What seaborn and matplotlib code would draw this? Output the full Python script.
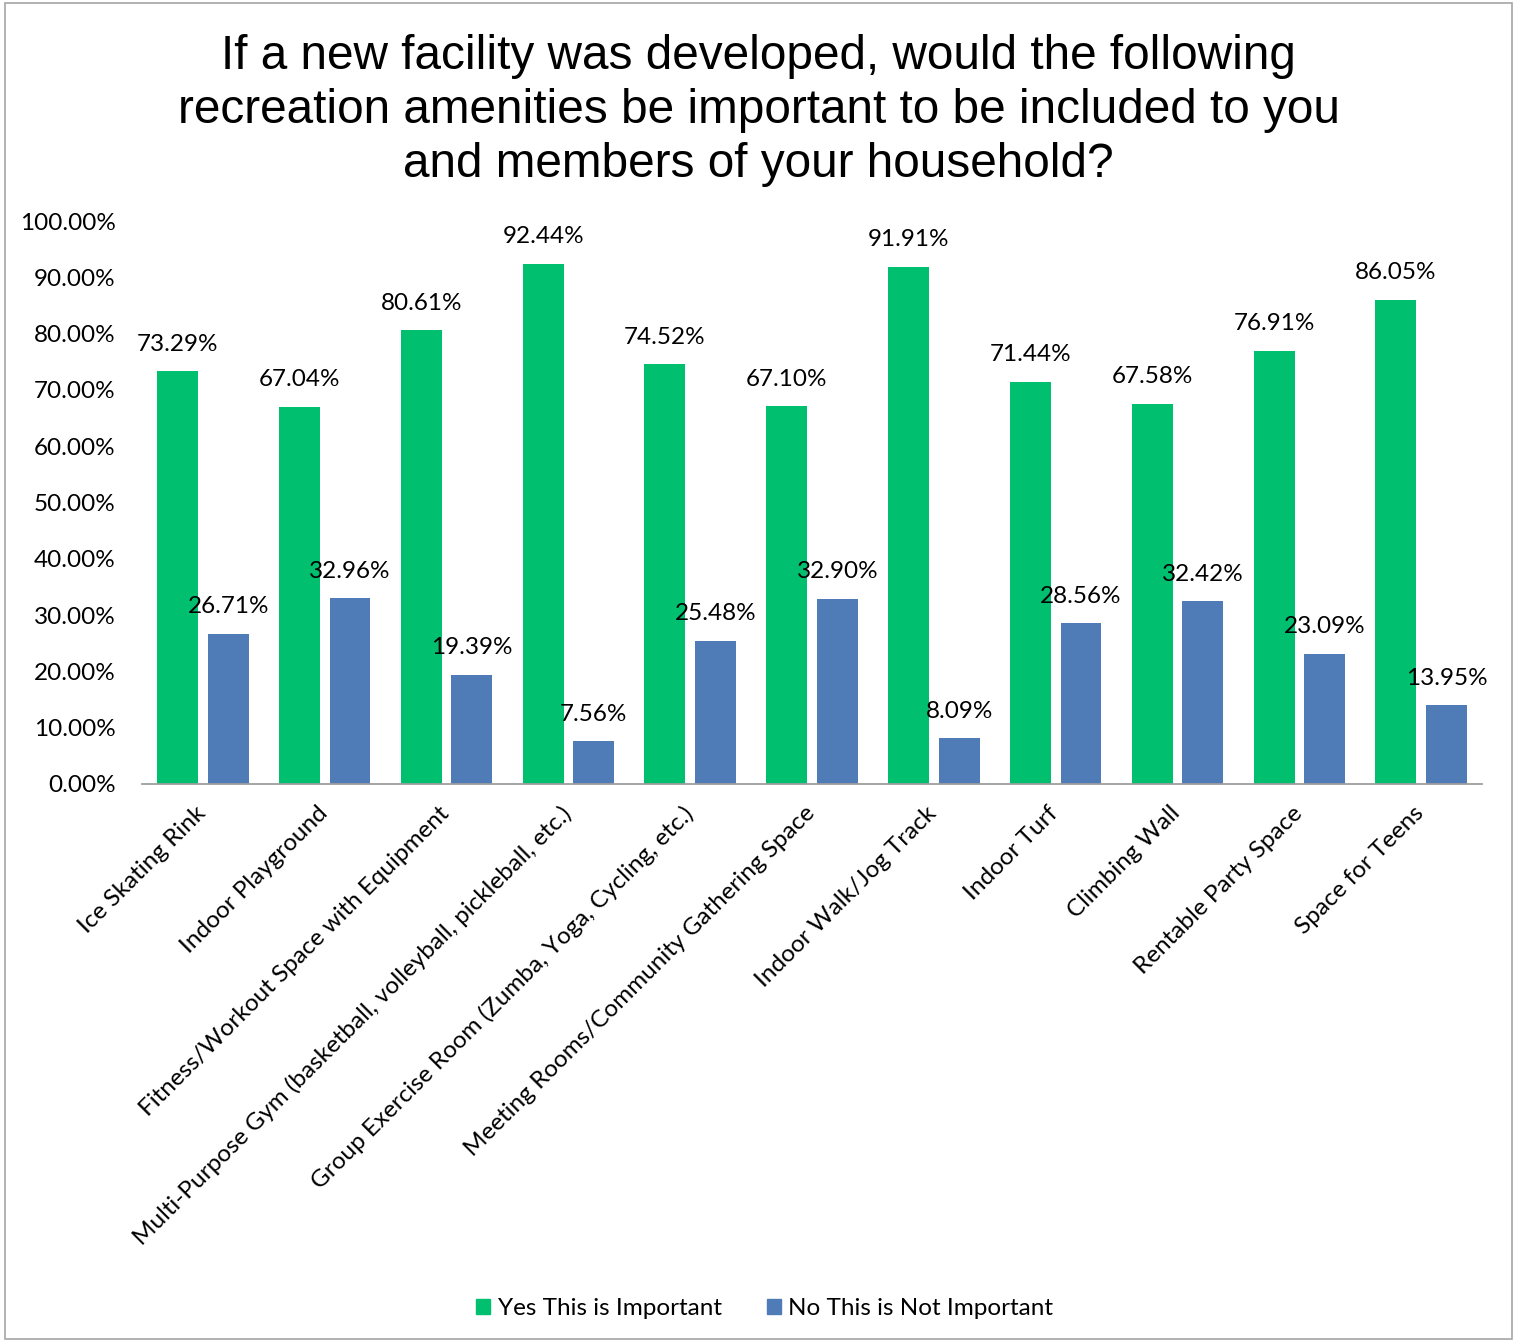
import matplotlib
matplotlib.use("Agg")
import matplotlib.pyplot as plt
import matplotlib.patches as mpatches
import matplotlib.transforms as mtransforms
import seaborn as sns
import pandas as pd

amenities = [
    "Ice Skating Rink",
    "Indoor Playground",
    "Fitness/Workout Space with Equipment",
    "Multi-Purpose Gym (basketball, volleyball, pickleball, etc.)",
    "Group Exercise Room (Zumba, Yoga, Cycling, etc.)",
    "Meeting Rooms/Community Gathering Space",
    "Indoor Walk/Jog Track",
    "Indoor Turf",
    "Climbing Wall",
    "Rentable Party Space",
    "Space for Teens",
]
yes_important = [73.29, 67.04, 80.61, 92.44, 74.52, 67.10, 91.91, 71.44, 67.58, 76.91, 86.05]
not_important = [26.71, 32.96, 19.39, 7.56, 25.48, 32.90, 8.09, 28.56, 32.42, 23.09, 13.95]
series_names = ["Yes This is Important", "No This is Not Important"]
colors = ["#00BF6F", "#4F7BB7"]
yticks = [0, 10, 20, 30, 40, 50, 60, 70, 80, 90, 100]

df = pd.DataFrame({
    "Amenity": amenities * 2,
    "Response": [series_names[0]] * len(amenities) + [series_names[1]] * len(amenities),
    "Percent": yes_important + not_important,
})

sns.set_theme(style="white")
plt.rcParams["font.family"] = ["Lato", "DejaVu Sans"]
plt.rcParams["text.color"] = "black"
plt.rcParams["xtick.color"] = "black"
plt.rcParams["ytick.color"] = "black"

fs = 17.5

fig = plt.figure(figsize=(15.17, 13.42), dpi=100)
ax = fig.add_axes([0.0936, 0.4158, 0.8834, 0.4195])

sns.barplot(data=df, x="Amenity", y="Percent", hue="Response",
            palette=colors, width=0.83, gap=0.19, ax=ax, legend=False,
            edgecolor="none", saturation=1)

ax.set_ylim(0, 100)
ax.set_xlim(-0.5, len(amenities) - 0.5)
ax.set_yticks(yticks)
ax.set_yticklabels([f"{v:.2f}%" for v in yticks], fontsize=fs)
ax.tick_params(axis="y", length=0, pad=19)
ax.tick_params(axis="x", length=0, pad=4)
ax.set_xlabel("")
ax.set_ylabel("")
for s in ["top", "right", "left"]:
    ax.spines[s].set_visible(False)
ax.spines["bottom"].set_color("#9e9e9e")
ax.spines["bottom"].set_linewidth(1.3)

ax.set_xticks(range(len(amenities)))
ax.set_xticklabels(amenities, rotation=45, ha="right", rotation_mode="anchor",
                   fontsize=fs, va="top")
shift = mtransforms.ScaledTranslation(-8 / 100, -13 / 100, fig.dpi_scale_trans)
for lbl in ax.get_xticklabels():
    lbl.set_transform(lbl.get_transform() + shift)

for cont in ax.containers:
    ax.bar_label(cont, labels=[f"{v:.2f}%" for v in cont.datavalues],
                 fontsize=fs, padding=12)

fig.suptitle("If a new facility was developed, would the following\n"
             "recreation amenities be important to be included to you\n"
             "and members of your household?",
             y=0.975, fontsize=34.4, family=["Liberation Sans", "DejaVu Sans"],
             linespacing=1.27, color="black")

handles = [mpatches.Patch(color=c, label=n) for c, n in zip(colors, series_names)]
fig.legend(handles=handles, loc="center", bbox_to_anchor=(0.504, 0.025), ncol=2,
           frameon=False, fontsize=fs, handlelength=0.6, handleheight=0.6,
           handletextpad=0.3, columnspacing=1.85)

fig.patches.append(mpatches.Rectangle((0.003, 0.002), 0.994, 0.996, transform=fig.transFigure,
                                      fill=False, edgecolor="#a6a6a6", linewidth=1.2))

fig.savefig("out.png", dpi=100, facecolor="white")
